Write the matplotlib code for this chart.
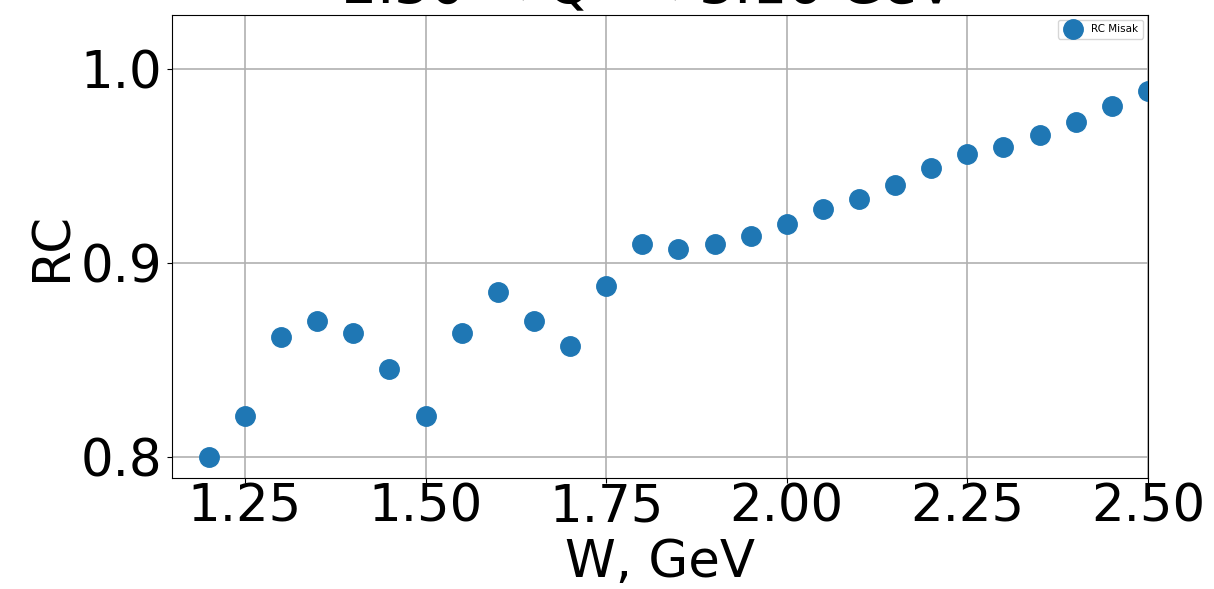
import matplotlib
matplotlib.use("Agg")
import matplotlib.pyplot as plt

# W bins and radiative correction values
w_gev = [1.20, 1.25, 1.30, 1.35, 1.40, 1.45, 1.50, 1.55, 1.60, 1.65, 1.70,
         1.75, 1.80, 1.85, 1.90, 1.95, 2.00, 2.05, 2.10, 2.15, 2.20, 2.25,
         2.30, 2.35, 2.40, 2.45, 2.50]
rc_misak = [0.800, 0.821, 0.862, 0.870, 0.864, 0.845, 0.821, 0.864, 0.885,
            0.870, 0.857, 0.888, 0.910, 0.907, 0.910, 0.914, 0.920, 0.928,
            0.933, 0.940, 0.949, 0.956, 0.960, 0.966, 0.973, 0.981, 0.989]
x_ticks = [1.25, 1.50, 1.75, 2.00, 2.25, 2.50]
y_ticks = [0.8, 0.9, 1.0]

fig = plt.figure(figsize=(12.14, 5.89), dpi=100)
ax = fig.add_axes([0.1417, 0.1885, 0.8039, 0.786])

ax.plot(w_gev, rc_misak, "o", color="#1f77b4", markersize=14, label="RC Misak")

ax.set_xlim(1.149, 2.50)
ax.set_ylim(0.789, 1.028)
ax.set_xticks(x_ticks)
ax.set_xticklabels([f"{t:.2f}" for t in x_ticks])
ax.set_yticks(y_ticks)
ax.set_yticklabels([f"{t:.1f}" for t in y_ticks])
ax.tick_params(labelsize=37)
ax.tick_params(axis="x", pad=0)
ax.grid(True, linewidth=1.2)
ax.set_xlabel("W, GeV", fontsize=37, labelpad=4)
ax.set_ylabel("RC", fontsize=37, labelpad=2)
ax.set_title(r"2.30 < Q$^2$ < 3.16 GeV$^2$", fontsize=40, pad=2)
ax.legend(loc="upper right", fontsize=7.5, markerscale=1.0)

fig.savefig("out.png", dpi=100)
